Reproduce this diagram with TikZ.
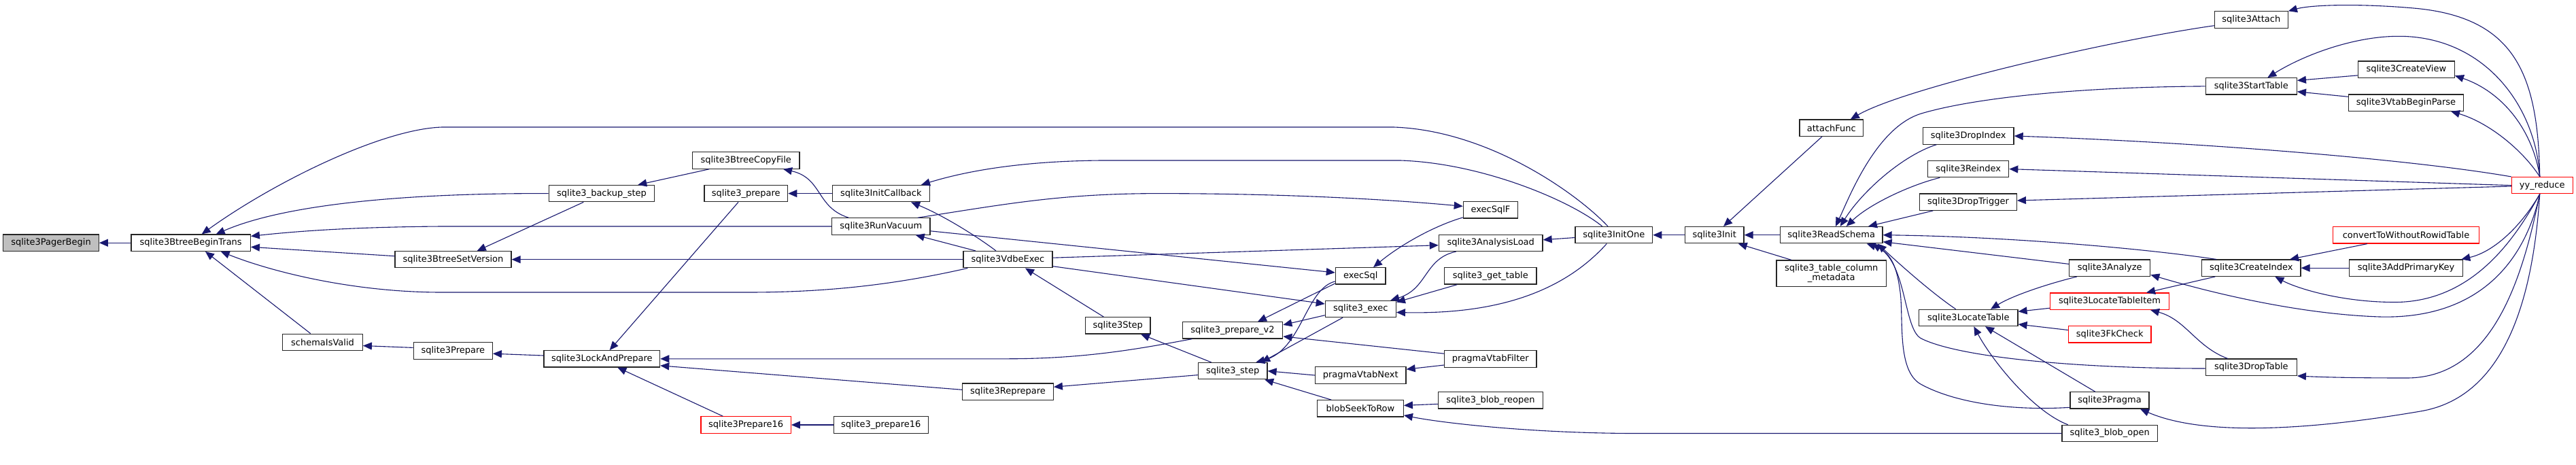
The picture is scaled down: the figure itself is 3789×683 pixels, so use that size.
\documentclass[tikz,border=0pt]{standalone}
\usepackage{fontspec}
\newfontfamily\dvs{DejaVu Sans}
\usetikzlibrary{arrows.meta}
\definecolor{edgeblue}{RGB}{25,25,112}
\definecolor{rootgray}{RGB}{191,191,191}
\tikzset{
 box/.style={draw=black!85, line width=1.2pt, fill=white, rectangle, inner sep=0pt,
   minimum height=24.3pt, font={\dvs\fontsize{13}{14}\selectfont}, text=black},
 redbox/.style={box, draw=red},
 conn/.style={draw=edgeblue, line width=1.1pt, -{Triangle[length=13pt,width=11pt]}},
}
\begin{document}
\begin{tikzpicture}[x=1pt,y=-1pt]
\fill[white] (0,0) rectangle (3789,683);
\useasboundingbox (0,0) rectangle (3789,683);
% nodes
\node[box, fill=rootgray, minimum width=140.6pt] (PB) at (75,357.2) {sqlite3PagerBegin};
\node[box, minimum width=175.3pt] (BBT) at (280.7,357.2) {sqlite3BtreeBeginTrans};
\node[box, minimum width=117.6pt] (SIV) at (474.5,503.3) {schemaIsValid};
\node[box, minimum width=171pt] (BSV) at (666.5,381.7) {sqlite3BtreeSetVersion};
\node[box, minimum width=116pt] (SP) at (666.3,516) {sqlite3Prepare};
\node[box, minimum width=155.4pt] (BS) at (885,284.6) {sqlite3\_backup\_step};
\node[box, minimum width=170.7pt] (LAP) at (885.3,527.8) {sqlite3LockAndPrepare};
\node[box, minimum width=157.7pt] (BCF) at (1097.2,236) {sqlite3BtreeCopyFile};
\node[box, minimum width=122.7pt] (SPR) at (1097.3,284.6) {sqlite3\_prepare};
\node[redbox, minimum width=132.3pt] (P16) at (1097.2,625) {sqlite3Prepare16};
\node[box, minimum width=143pt] (IC) at (1295.8,284.6) {sqlite3InitCallback};
\node[box, minimum width=144.3pt] (RV) at (1295.8,333) {sqlite3RunVacuum};
\node[box, minimum width=139pt] (PR16) at (1295.8,625) {sqlite3\_prepare16};
\node[box, minimum width=131pt] (VE) at (1482.5,381.7) {sqlite3VdbeExec};
\node[box, minimum width=133.6pt] (RP) at (1482.5,576.2) {sqlite3Reprepare};
\node[box, minimum width=95.3pt] (ST) at (1644.3,478.8) {sqlite3Step};
\node[box, minimum width=147.4pt] (PV2) at (1813,485.9) {sqlite3\_prepare\_v2};
\node[box, minimum width=101.7pt] (S3S) at (1813.2,545.7) {sqlite3\_step};
\node[box, minimum width=80.4pt] (ESF) at (2192.5,308.9) {execSqlF};
\node[box, minimum width=152.7pt] (AL) at (2192.7,357.3) {sqlite3AnalysisLoad};
\node[box, minimum width=73.7pt] (ES) at (2001.2,405.9) {execSql};
\node[box, minimum width=135.3pt] (GT) at (2192.3,405.9) {sqlite3\_get\_table};
\node[box, minimum width=104pt] (SE) at (2001.3,454.5) {sqlite3\_exec};
\node[box, minimum width=135.3pt] (PVF) at (2192.3,528) {pragmaVtabFilter};
\node[box, minimum width=133.7pt] (PVN) at (2001.2,552) {pragmaVtabNext};
\node[box, minimum width=153.6pt] (BR) at (2192.5,588.9) {sqlite3\_blob\_reopen};
\node[box, minimum width=126.6pt] (BSR) at (2001,600.9) {blobSeekToRow};
\node[box, minimum width=113.7pt] (IO) at (2373.8,345.7) {sqlite3InitOne};
\node[box, minimum width=86.7pt] (INIT) at (2521.7,345.7) {sqlite3Init};
\node[box, minimum width=93.7pt] (AF) at (2693.8,188.2) {attachFunc};
\node[box, minimum width=150.7pt] (RS) at (2693.7,345.7) {sqlite3ReadSchema};
\node[box, minimum width=161.3pt, minimum height=38.4pt, align=center] (TCM) at (2693.7,402.2) {sqlite3\_table\_column\\\_metadata};
\node[box, minimum width=133.7pt] (DI) at (2895.2,200) {sqlite3DropIndex};
\node[box, minimum width=119pt] (RI) at (2895.2,248.6) {sqlite3Reindex};
\node[box, minimum width=142.6pt] (DT) at (2895,297.2) {sqlite3DropTrigger};
\node[box, minimum width=145.3pt] (LT) at (2895.3,467.5) {sqlite3LocateTable};
\node[box, minimum width=119pt] (AN) at (3103.2,394.2) {sqlite3Analyze};
\node[redbox, minimum width=174.6pt] (LTI) at (3103,443.2) {sqlite3LocateTableItem};
\node[redbox, minimum width=121.7pt] (FK) at (3103.2,491.8) {sqlite3FkCheck};
\node[box, minimum width=116pt] (PR) at (3103,588.9) {sqlite3Pragma};
\node[box, minimum width=140.3pt] (BO) at (3103.2,637.5) {sqlite3\_blob\_open};
\node[box, minimum width=108pt] (AT) at (3311.3,29) {sqlite3Attach};
\node[box, minimum width=134pt] (STT) at (3311.3,126.9) {sqlite3StartTable};
\node[box, minimum width=145.3pt] (CI) at (3311.3,394.2) {sqlite3CreateIndex};
\node[box, minimum width=134pt] (DTB) at (3311.3,540.2) {sqlite3DropTable};
\node[box, minimum width=142pt] (CV) at (3539.3,102.2) {sqlite3CreateView};
\node[box, minimum width=169.4pt] (VBP) at (3539,151.1) {sqlite3VtabBeginParse};
\node[redbox, minimum width=214.6pt] (CWR) at (3539,345.9) {convertToWithoutRowidTable};
\node[box, minimum width=167.4pt] (APK) at (3539,394.2) {sqlite3AddPrimaryKey};
\node[redbox, minimum width=89.7pt] (YY) at (3739.2,272.7) {yy\_reduce};
% edges
\draw[conn] (BBT.west) -- (PB.east);
\draw[conn] ([xshift=-8.8pt]IO.north) .. controls (2320,285) and (2190,192) .. (2050,187) -- (650,187) .. controls (560,190) and (400,270) .. ([xshift=16pt]BBT.north);
\draw[conn] (BS.west) .. controls (600,284) and (420,300) .. ([xshift=37pt]BBT.north);
\draw[conn] (RV.west) -- (650,333) .. controls (500,334) and (420,342) .. ([yshift=9.8pt]BBT.east);
\draw[conn] ([yshift=5pt]BSV.west) -- ([yshift=-6.1pt]BBT.east);
\draw[conn] ([xshift=-59.2pt]VE.south) .. controls (1320,418) and (1220,430) .. (1100,430) -- (650,430) .. controls (520,430) and (400,400) .. ([xshift=44pt]BBT.south);
\draw[conn] ([xshift=-17.8pt]SIV.north) -- ([xshift=21.3pt]BBT.south);
\draw[conn] ([xshift=-26.7pt]BS.south) -- ([xshift=35.2pt]BSV.north);
\draw[conn] (VE.west) -- (BSV.east);
\draw[conn] ([xshift=-53.9pt]BCF.south) -- ([xshift=53.3pt]BS.north);
\draw[conn] ([xshift=-47.5pt]RV.north) .. controls (1200,305) and (1210,262) .. ([xshift=54.8pt]BCF.south);
\draw[conn] ([yshift=4.6pt]SP.west) -- ([yshift=-5.2pt]SIV.east);
\draw[conn] ([yshift=4.8pt]LAP.west) -- ([yshift=-4.2pt]SP.east);
\draw[conn] ([xshift=-11.3pt]SPR.south) -- ([xshift=11.4pt]LAP.north);
\draw[conn] ([xshift=-59.7pt]PV2.south) .. controls (1680,512) and (1600,527.8) .. (1480,527.8) -- (LAP.east);
\draw[conn] ([yshift=2.9pt]RP.west) -- ([yshift=-10pt]LAP.east);
\draw[conn] ([xshift=-33.9pt]P16.north) -- ([xshift=23pt]LAP.south);
\draw[conn] (PR16) -- (P16);
\draw[conn] (IC) -- (SPR);
\draw[conn] ([xshift=-17.1pt]IO.north) .. controls (2310,295) and (2180,240) .. (2060,236) -- (1620,236) .. controls (1500,237) and (1420,252) .. ([xshift=59.2pt]IC.north);
\draw[conn] ([xshift=-17.5pt]VE.north) .. controls (1440,350) and (1390,318) .. ([xshift=44.2pt]IC.south);
\draw[conn] ([xshift=-47.5pt]VE.north) -- ([xshift=50.9pt]RV.south);
\draw[conn] ([xshift=54.2pt]RV.north) .. controls (1480,300) and (1560,285) .. (1700,284.6) .. controls (1900,284.6) and (2050,294) .. ([yshift=5.5pt]ESF.west);
\draw[conn] ([xshift=-21pt]ST.north) -- ([xshift=25.5pt]VE.south);
\draw[conn] ([yshift=-10pt]VE.east) -- ([yshift=7.5pt]SE.west);
\draw[conn] ([yshift=2.5pt]VE.east) -- ([yshift=-3.4pt]AL.west);
\draw[conn] ([yshift=-6.8pt]RV.east) -- ([yshift=4.9pt]ES.west);
\draw[conn] ([yshift=-11pt]ESF.west) .. controls (2110,332) and (2060,360) .. ([xshift=18.8pt]ES.north);
\draw[conn] ([xshift=-51pt]AL.south) .. controls (2095,380) and (2100,425) .. ([xshift=44pt]SE.north);
\draw[conn] ([xshift=-49pt]GT.south) -- ([yshift=10pt]SE.east);
\draw[conn] ([xshift=-10.5pt]IO.south) .. controls (2290,440) and (2180,462) .. ([yshift=-5pt]SE.east);
\draw[conn] ([yshift=-3.8pt]IO.west) -- ([yshift=4.5pt]AL.east);
\draw[conn] (INIT) -- (IO);
\draw[conn] ([xshift=-13.8pt]AF.south) -- ([xshift=13.3pt]INIT.north);
\draw[conn] (RS) -- (INIT);
\draw[conn] ([xshift=-58.7pt]TCM.north) -- ([xshift=35pt]INIT.south);
\draw[conn] ([yshift=-8.7pt]AT.west) .. controls (3100,60) and (2800,130) .. ([xshift=28pt]AF.north);
\draw[conn] (STT.west) .. controls (3050,128) and (2900,145) .. (2826,167) .. controls (2760,187) and (2720,290) .. ([xshift=6.3pt]RS.north);
\draw[conn] ([xshift=-46.9pt]DI.south) .. controls (2800,228) and (2740,280) .. ([xshift=13pt]RS.north);
\draw[conn] ([xshift=-41.9pt]RI.south) .. controls (2810,272) and (2750,300) .. ([xshift=22pt]RS.north);
\draw[conn] ([xshift=-51.7pt]DT.south) -- ([xshift=54.3pt]RS.north);
\draw[conn] ([xshift=-51.3pt]CI.north) .. controls (3150,365) and (2950,348) .. (RS.east);
\draw[conn] ([yshift=5.8pt]AN.west) -- ([yshift=-10pt]RS.east);
\draw[conn] ([xshift=-18.6pt]LT.north) .. controls (2840,430) and (2790,385) .. ([xshift=68pt]RS.south);
\draw[conn] ([yshift=-1.8pt]DTB.west) .. controls (3050,542) and (2880,525) .. (2826,498) .. controls (2800,485) and (2805,390) .. ([xshift=60pt]RS.south);
\draw[conn] ([yshift=-10.4pt]PR.west) .. controls (2950,605) and (2870,590) .. (2825,565) .. controls (2790,545) and (2800,470) .. (2795,430) .. controls (2790,390) and (2780,370) .. ([xshift=52pt]RS.south);
\draw[conn] ([yshift=-10pt]LTI.west) -- ([yshift=9.2pt]LT.east);
\draw[conn] ([yshift=6.3pt]FK.west) -- ([yshift=-9.5pt]LT.east);
\draw[conn] ([xshift=-48.2pt]AN.south) .. controls (3010,418) and (2960,435) .. ([xshift=32.7pt]LT.north);
\draw[conn] ([xshift=-21.3pt]PR.north) -- ([xshift=24.7pt]LT.south);
\draw[conn] ([xshift=-61.5pt]BO.north) .. controls (2990,605) and (2930,530) .. ([xshift=8pt]LT.south);
\draw[conn] ([xshift=-34.6pt]DTB.north) .. controls (3230,510) and (3215,470) .. ([xshift=60pt]LTI.south);
\draw[conn] ([xshift=-53pt]CI.south) -- ([xshift=54pt]LTI.north);
% from yy_reduce
\draw[conn] ([xshift=-3.5pt]YY.south) .. controls (3715,380) and (3650,470) .. (3500,466) .. controls (3380,462) and (3250,430) .. ([yshift=-10pt]AN.east);
\draw[conn] ([xshift=-3.5pt]YY.south) .. controls (3700,350) and (3640,440) .. (3530,444.4) .. controls (3450,446) and (3380,425) .. ([xshift=35pt]CI.south);
\draw[conn] ([xshift=-3.5pt]YY.south) .. controls (3712,400) and (3670,556) .. (3540,556) .. controls (3470,556) and (3420,555) .. (DTB.south east);
\draw[conn] ([xshift=-3.5pt]YY.south) .. controls (3725,450) and (3680,585) .. (3560,605) .. controls (3460,622) and (3260,650) .. ([xshift=45pt]PR.south);
\draw[conn] ([xshift=-3.5pt]YY.north) .. controls (3733,110) and (3700,25) .. (3550,12) .. controls (3470,5) and (3400,7) .. (AT.north east);
\draw[conn] ([xshift=-3.5pt]YY.north) .. controls (3730,160) and (3660,60) .. (3540,53.6) .. controls (3470,50) and (3390,80) .. ([xshift=24pt]STT.north);
\draw[conn] ([xshift=-3.5pt]YY.north) .. controls (3725,190) and (3680,135) .. ([yshift=-9pt]CV.east);
\draw[conn] ([xshift=-3.5pt]YY.north) .. controls (3710,220) and (3660,180) .. ([xshift=66pt]VBP.south);
\draw[conn] ([xshift=-3.5pt]YY.south) .. controls (3710,330) and (3670,370) .. ([xshift=-3pt]APK.north east);
\draw[conn] (YY.north west) .. controls (3550,235) and (3250,210) .. (DI.east);
\draw[conn] (YY.west) -- (RI.east);
\draw[conn] ([yshift=-1.3pt]YY.west) -- ([yshift=2.2pt]DT.east);
\draw[conn] ([yshift=-8.7pt]CV.west) -- ([yshift=8.5pt]STT.east);
\draw[conn] ([yshift=8.8pt]VBP.west) -- ([yshift=-7.9pt]STT.east);
\draw[conn] ([xshift=-57.3pt]CWR.south) -- ([xshift=56.7pt]CI.north);
\draw[conn] (APK) -- (CI);
\draw[conn] ([yshift=-5.4pt]BR.west) -- ([yshift=4.5pt]BSR.east);
\draw[conn] (BO.west) -- (2400,637.5) .. controls (2250,637) and (2120,622) .. ([yshift=-10pt]BSR.east);
\draw[conn] ([xshift=-31.5pt]S3S.north) -- ([xshift=33.7pt]ST.south);
\draw[conn] ([yshift=-5.9pt]S3S.west) -- ([yshift=7pt]RP.east);
\draw[conn] ([yshift=-11pt]ES.west) -- ([xshift=37pt]PV2.north);
\draw[conn] ([yshift=-8pt]ES.west) .. controls (1920,425) and (1915,515) .. ([xshift=34pt]S3S.north);
\draw[conn] ([yshift=-9.2pt]SE.west) -- ([yshift=8pt]PV2.east);
\draw[conn] ([xshift=-26.3pt]SE.south) -- ([xshift=42pt]S3S.north);
\draw[conn] ([yshift=7.8pt]PVF.west) -- ([yshift=-9pt]PV2.east);
\draw[conn] ([yshift=-9pt]PVF.west) -- ([yshift=8.8pt]PVN.east);
\draw[conn] (PVN.west) -- (S3S.east);
\draw[conn] ([xshift=-42.7pt]BSR.north) -- ([xshift=47pt]S3S.south);
\end{tikzpicture}
\end{document}
